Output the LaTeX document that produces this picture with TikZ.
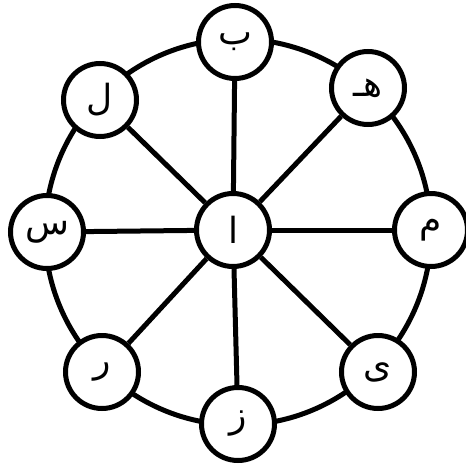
\documentclass[tikz,border=0pt]{standalone}
\usepackage{fontspec}
\newfontfamily\arabicfont[Script=Arabic]{DejaVu Sans}
\TeXXeTstate=1
\begin{document}
\begin{tikzpicture}[x=1pt,y=-1pt,
  ltr/.style={circle, draw, line width=5pt, fill=white, minimum size=73pt, inner sep=0pt,
    font=\arabicfont\fontsize{36}{36}\selectfont},
  spoke/.style={line width=5pt},
  ring/.style={line width=5pt}]
\useasboundingbox (0,0) rectangle (466,469);
\fill[white] (0,0) rectangle (466,469);
\draw[ring] (238,232) circle[radius=193];
\node[ltr] (a) at (233,230) {\beginR ا\endR};
\node[ltr] (b) at (235,42) {\beginR ب\endR};
\node[ltr] (h) at (368,88) {\beginR هـ\endR};
\node[ltr] (m) at (431,230) {\beginR م\endR};
\node[ltr] (y) at (378,372) {\beginR ی\endR};
\node[ltr] (z) at (238,424) {\beginR ز\endR};
\node[ltr] (r) at (102,372) {\beginR ر\endR};
\node[ltr] (s) at (47,232) {\beginR س\endR};
\node[ltr] (l) at (100,100) {\beginR ل\endR};
\foreach \n in {b,h,m,y,z,r,s,l} \draw[spoke] (a) -- (\n);
\end{tikzpicture}
\end{document}
